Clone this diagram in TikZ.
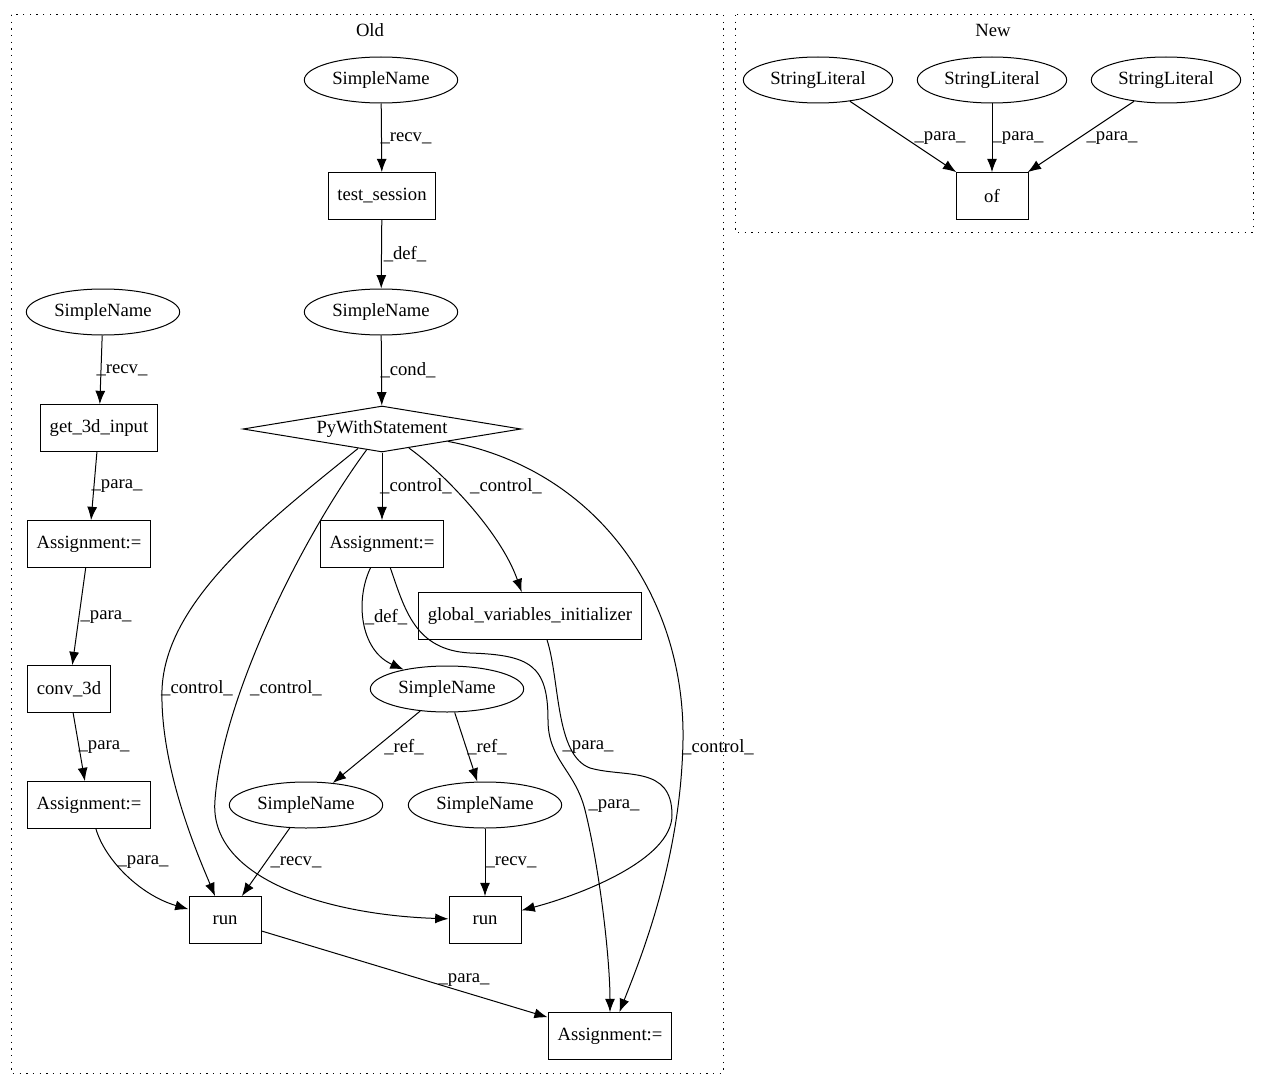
\documentclass[tikz,border=0pt]{standalone}
\usepackage{fontspec}
\setmainfont{Liberation Serif}
\usetikzlibrary{arrows.meta,shapes.geometric}

\begin{document}
\begin{tikzpicture}[x=0.75pt,y=-0.75pt,line width=0.75pt,
    >={Latex[length=10pt,width=7.5pt]},
    every node/.style={font=\fontsize{14}{16}\selectfont},
    sname/.style={draw,ellipse,minimum width=115pt,minimum height=34.5pt,inner sep=1pt},
    lit/.style={draw,ellipse,minimum width=112pt,minimum height=34.5pt,inner sep=1pt},
    box/.style={draw,rectangle,minimum height=35pt,minimum width=54pt,inner xsep=7pt,inner ysep=2pt},
    withstmt/.style={draw,diamond,aspect=6,minimum width=208.5pt,minimum height=34.5pt,inner sep=0pt},
    lbl/.style={inner sep=1pt},
    cluster/.style={draw,dash pattern=on 1pt off 4pt},
    edge/.style={->}]
  \useasboundingbox (0,0) rectangle (1268,1088);

  % Clusters
  \draw[cluster] (11,15) rectangle (723,1073);
  \node (old) at (370,30) {Old};
  \draw[cluster] (735,15) rectangle (1253,232);
  \node (new) at (993,30) {New};

  % Old
  \node[sname] (sn1) at (381,80) {SimpleName};
  \node[box] (ts) at (382,196) {test\_session};
  \node[sname] (sn2) at (381,312) {SimpleName};
  \node[withstmt] (pw) at (382,429) {PyWithStatement};
  \node[sname] (sn3) at (103,312) {SimpleName};
  \node[box] (g3d) at (99,428) {get\_3d\_input};
  \node[box] (as1) at (89,544) {Assignment:=};
  \node[box] (cv) at (69,689) {conv\_3d};
  \node[box] (as2) at (89,805) {Assignment:=};
  \node[box] (as3) at (382,544) {Assignment:=};
  \node[box] (gvi) at (530,616) {global\_variables\_initializer};
  \node[sname] (sn4) at (447,689) {SimpleName};
  \node[sname] (sn5) at (306,805) {SimpleName};
  \node[sname] (sn6) at (485,805) {SimpleName};
  \node[box] (run1) at (225,920) {run};
  \node[box] (run2) at (485,920) {run};
  \node[box] (as4) at (610,1036) {Assignment:=};

  \foreach \a/\b in {sn1/ts, ts/sn2, sn2/pw, sn3/g3d, g3d/as1, as1/cv, cv/as2,
                     pw/as3, sn4/sn5, sn4/sn6, sn5/run1, sn6/run2, run1/as4}
    \draw[edge] (\a) -- (\b);

  \draw[edge] (as2) .. controls (105,860) and (140,895) .. (run1);
  \draw[edge] (pw) .. controls (270,520) and (165,600) .. (162,690)
                   .. controls (160,770) and (200,860) .. (run1);
  \draw[edge] (pw) .. controls (300,540) and (222,700) .. (215,800)
                   .. controls (208,880) and (330,915) .. (run2);
  \draw[edge] (pw) .. controls (440,470) and (500,530) .. (gvi);
  \draw[edge] (pw) .. controls (600,470) and (685,600) .. (683,740)
                   .. controls (681,860) and (640,960) .. (as4);
  \draw[edge] (as3) .. controls (355,600) and (360,650) .. (sn4);
  \draw[edge] (as3) .. controls (405,610) and (415,650) .. (470,653)
                    .. controls (530,655) and (548,665) .. (548,720)
                    .. controls (548,760) and (575,770) .. (585,810)
                    .. controls (600,870) and (610,960) .. (as4);
  \draw[edge] ([xshift=12.75pt]gvi.south) .. controls (560,680) and (555,755) .. (590,768)
                   .. controls (625,778) and (672,765) .. (672,815)
                   .. controls (672,860) and (580,895) .. (run2);

  % New
  \foreach \x [count=\i] in {818,992,1166}
    \node[lit] (sl\i) at (\x,80) {StringLiteral};
  \node[box] (of) at (992,196) {of};
  \foreach \i in {1,2,3}
    \draw[edge] (sl\i) -- (of);

  % edge labels
  \foreach \x/\y/\t [count=\i] in {406/138/\_recv\_, 405/254/\_def\_, 408/370/\_cond\_,
      122/370/\_recv\_, 117/486/\_para\_, 106/617/\_para\_, 104/747/\_para\_,
      143/862/\_para\_, 197/688/\_control\_, 286/688/\_control\_,
      416/486/\_control\_, 506/486/\_control\_, 386/617/\_def\_,
      404/747/\_ref\_, 487/747/\_ref\_, 588/747/\_para\_, 614/806/\_para\_,
      718/747/\_control\_, 296/862/\_recv\_, 511/862/\_recv\_, 464/980/\_para\_,
      940/138/\_para\_, 1018/138/\_para\_, 1112/138/\_para\_}
    \node[lbl] (lab\i) at (\x,\y) {\t};
\end{tikzpicture}
\end{document}
